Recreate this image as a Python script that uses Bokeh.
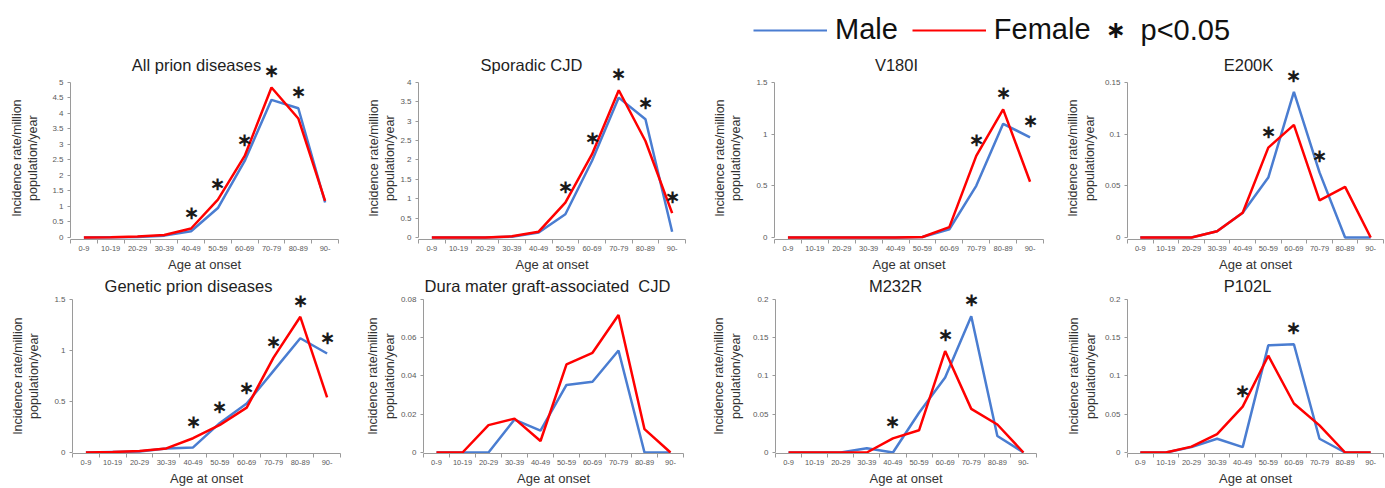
from bokeh.plotting import figure
from bokeh.layouts import column, row
from bokeh.models import (ColumnDataSource, FixedTicker, LabelSet, Legend, LegendItem,
                          Label, Range1d, NumeralTickFormatter)
from bokeh.embed import file_html
from bokeh.resources import INLINE

# ---------------- data ----------------
age_groups = ["0-9", "10-19", "20-29", "30-39", "40-49", "50-59", "60-69", "70-79", "80-89", "90-"]

all_prion_male = [0.00, 0.01, 0.02, 0.06, 0.20, 0.95, 2.47, 4.44, 4.17, 1.13]
all_prion_female = [0.00, 0.01, 0.03, 0.08, 0.29, 1.22, 2.63, 4.84, 3.84, 1.18]
all_prion_sig = ["40-49", "50-59", "60-69", "70-79", "80-89"]

sporadic_male = [0.00, 0.00, 0.00, 0.02, 0.13, 0.60, 1.98, 3.61, 3.05, 0.15]
sporadic_female = [0.00, 0.00, 0.00, 0.03, 0.15, 0.90, 2.15, 3.80, 2.49, 0.63]
sporadic_sig = ["50-59", "60-69", "70-79", "80-89", "90-"]

v180i_male = [0.00, 0.00, 0.00, 0.00, 0.00, 0.005, 0.08, 0.50, 1.10, 0.97]
v180i_female = [0.00, 0.00, 0.00, 0.00, 0.00, 0.005, 0.10, 0.79, 1.24, 0.54]
v180i_sig = ["70-79", "80-89", "90-"]

e200k_male = [0.0, 0.0, 0.0, 0.006, 0.024, 0.058, 0.141, 0.063, 0.0, 0.0]
e200k_female = [0.0, 0.0, 0.0, 0.006, 0.024, 0.087, 0.109, 0.036, 0.049, 0.0]
e200k_sig = ["50-59", "60-69", "70-79"]

genetic_male = [0.00, 0.005, 0.01, 0.04, 0.05, 0.29, 0.48, 0.80, 1.12, 0.97]
genetic_female = [0.00, 0.005, 0.015, 0.04, 0.14, 0.27, 0.44, 0.93, 1.33, 0.54]
genetic_sig = ["40-49", "50-59", "60-69", "70-79", "80-89", "90-"]

dura_male = [0.0, 0.0, 0.0, 0.0172, 0.0114, 0.0353, 0.0370, 0.0533, 0.0, 0.0]
dura_female = [0.0, 0.0, 0.0143, 0.0177, 0.0060, 0.0461, 0.0521, 0.0719, 0.0122, 0.0]
dura_sig = []

m232r_male = [0.0, 0.0, 0.0, 0.0056, 0.0, 0.052, 0.098, 0.178, 0.0215, 0.0]
m232r_female = [0.0, 0.0, 0.0, 0.0, 0.0185, 0.029, 0.1325, 0.057, 0.0366, 0.0]
m232r_sig = ["40-49", "60-69", "70-79"]

p102l_male = [0.0, 0.0, 0.007, 0.018, 0.007, 0.140, 0.1415, 0.018, 0.0, 0.0]
p102l_female = [0.0, 0.0, 0.0077, 0.024, 0.060, 0.1265, 0.064, 0.0355, 0.0, 0.0]
p102l_sig = ["40-49", "60-69"]

# title, male, female, significant groups, axis max, tick step
panels_top = [
    ("All prion diseases", all_prion_male, all_prion_female, all_prion_sig, 5, 0.5),
    ("Sporadic CJD", sporadic_male, sporadic_female, sporadic_sig, 4, 0.5),
    ("V180I", v180i_male, v180i_female, v180i_sig, 1.5, 0.5),
    ("E200K", e200k_male, e200k_female, e200k_sig, 0.15, 0.05),
]
panels_bottom = [
    ("Genetic prion diseases", genetic_male, genetic_female, genetic_sig, 1.5, 0.5),
    ("Dura mater graft-associated\u00a0 CJD", dura_male, dura_female, dura_sig, 0.08, 0.02),
    ("M232R", m232r_male, m232r_female, m232r_sig, 0.2, 0.05),
    ("P102L", p102l_male, p102l_female, p102l_sig, 0.2, 0.05),
]

# ---------------- styling / layout ----------------
MALE_C = "#4A7DD1"
FEMALE_C = "#FF0000"
FONT = "Liberation Sans"
AX_C = "#9A9A9A"
PAD = "\u00a0" * 7   # keeps the rotated y label centred on the axis part of the frame

# (figure width, left border, right border, title centre from frame left, y-label standoff)
geom_top = [(345, 70, 7, 126, 9), (355, 73, 15, 113, 0), (345, 74, 2, 122, 10), (339, 82, 1, 121, 5)]
geom_bottom = [(345, 72, 5, 116, 10), (355, 78, 17, 124, 1), (345, 75, 9, 120, 7), (339, 82, 1, 120, 4)]

# (height, top border, bottom border, range start factor, range end factor, title offset below frame top)
row_top = (226, 4, 35, -0.0129, 1.1935, 12)
row_bottom = (214, 0, 35, -0.0065, 1.163, 11)


def make_panel(spec, geom, rowg):
    title, male, female, sig, ymax, step = spec
    w, left, right, tcx, ystand = geom
    height, top, bottom, s0, s1, toff = rowg
    n = len(age_groups)
    xs = [i + 0.5 for i in range(n)]
    p = figure(width=w, height=height, output_backend="svg", toolbar_location=None,
               title=None,
               x_range=Range1d(0, n), y_range=Range1d(s0 * ymax, s1 * ymax),
               min_border_left=left, min_border_right=right,
               min_border_top=top, min_border_bottom=bottom)
    p.outline_line_color = None
    p.grid.visible = False
    p.background_fill_color = "white"
    p.border_fill_color = "white"

    src = ColumnDataSource(dict(x=xs, male=male, female=female))
    p.line("x", "male", source=src, color=MALE_C, line_width=2.5)
    p.line("x", "female", source=src, color=FEMALE_C, line_width=2.5)

    # x axis
    xa = p.xaxis[0]
    xa.ticker = FixedTicker(ticks=xs, minor_ticks=list(range(n + 1)))
    xa.major_label_overrides = {x: g for x, g in zip(xs, age_groups)}
    xa.major_tick_line_color = None
    xa.minor_tick_in = 0
    xa.minor_tick_out = 4
    xa.minor_tick_line_color = AX_C
    xa.axis_line_color = AX_C
    xa.major_label_text_font = FONT
    xa.major_label_text_font_size = "7.5px"
    xa.major_label_text_color = "#595959"
    xa.major_label_standoff = 0
    xa.axis_label = "Age at onset"
    xa.axis_label_text_font = FONT
    xa.axis_label_text_font_size = "13px"
    xa.axis_label_text_font_style = "normal"
    xa.axis_label_text_color = "#333333"
    xa.axis_label_standoff = 3

    # y axis
    ya = p.yaxis[0]
    nt = int(round(ymax / step))
    ya.ticker = FixedTicker(ticks=[round(k * step, 4) for k in range(nt + 1)], minor_ticks=[])
    ya.formatter = NumeralTickFormatter(format="0.[00]")
    ya.bounds = (0, ymax)
    ya.major_tick_in = 0
    ya.major_tick_out = 3
    ya.major_tick_line_color = AX_C
    ya.axis_line_color = AX_C
    ya.major_label_text_font = FONT
    ya.major_label_text_font_size = "8px"
    ya.major_label_text_color = "#595959"
    ya.major_label_standoff = 4
    ya.axis_label = "Incidence rate/million" + PAD + "\npopulation/year" + PAD
    ya.axis_label_text_font = FONT
    ya.axis_label_text_font_size = "12.5px"
    ya.axis_label_text_font_style = "normal"
    ya.axis_label_text_color = "#333333"
    ya.axis_label_standoff = ystand

    # title (inside the plot area so the asterisks above the axis are not clipped)
    p.add_layout(Label(x=tcx, y=s1 * ymax, x_units="screen", y_units="data",
                       y_offset=-toff, text=title,
                       text_align="center", text_baseline="middle", text_font=FONT,
                       text_font_size="16.5px", text_color="#1e1e1e"))

    if sig:
        idx = [age_groups.index(g) for g in sig]
        ssrc = ColumnDataSource(dict(x=[xs[i] for i in idx],
                                     y=[max(male[i], female[i]) for i in idx],
                                     t=["\u2217"] * len(idx)))
        p.add_layout(LabelSet(x="x", y="y", text="t", source=ssrc, y_offset=16,
                              text_align="center", text_baseline="middle",
                              text_font="DejaVu Sans", text_font_style="bold",
                              text_font_size="18px", text_color="#1a1a1a"))
    return p


top_figs = [make_panel(s, g, row_top) for s, g in zip(panels_top, geom_top)]
bottom_figs = [make_panel(s, g, row_bottom) for s, g in zip(panels_bottom, geom_bottom)]

# ---------------- legend strip ----------------
nan = float("nan")
lg = figure(width=1384, height=48, output_backend="svg", toolbar_location=None,
            x_axis_type=None, y_axis_type=None, title=None,
            min_border_left=0, min_border_right=0, min_border_top=0, min_border_bottom=0)
lg.outline_line_color = None
lg.grid.visible = False
rm = lg.line(x=[nan, nan], y=[nan, nan], color=MALE_C, line_width=2)
rf = lg.line(x=[nan, nan], y=[nan, nan], color=FEMALE_C, line_width=2)
legend = Legend(items=[LegendItem(label="Male", renderers=[rm]),
                       LegendItem(label="Female", renderers=[rf])],
                location=(753, 2), orientation="horizontal",
                glyph_width=74, glyph_height=20, label_standoff=8, spacing=14,
                padding=0, margin=0, border_line_color=None, background_fill_alpha=0,
                label_text_font=FONT, label_text_font_size="29px",
                label_text_color="#111111")
lg.add_layout(legend)
lg.add_layout(Label(x=1115, y=19, x_units="screen", y_units="screen", text="\u2217",
                    text_align="center", text_baseline="middle", text_font="DejaVu Sans",
                    text_font_style="bold", text_font_size="24px", text_color="#111111"))
lg.add_layout(Label(x=1140, y=19, x_units="screen", y_units="screen", text="p<0.05",
                    text_align="left", text_baseline="middle", text_font=FONT,
                    text_font_size="29px", text_color="#111111"))

layout = column(lg, row(*top_figs, spacing=0), row(*bottom_figs, spacing=0), spacing=0)

open("out.html", "w").write(file_html(layout, INLINE))
